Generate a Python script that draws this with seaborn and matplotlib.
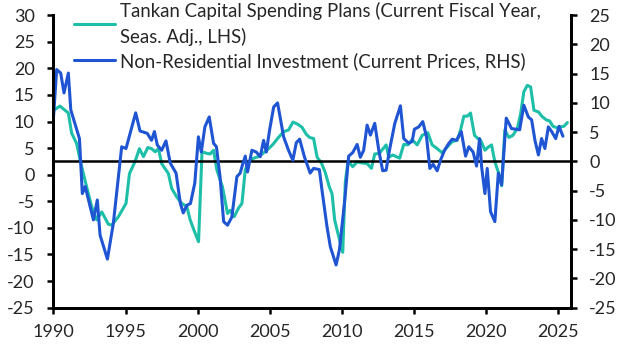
import numpy as np
import pandas as pd
import matplotlib
matplotlib.use("Agg")
import matplotlib.pyplot as plt
import seaborn as sns

# Tankan capital spending plans (LHS)
tankan_year = [1990.0, 1990.45, 1991.03, 1991.26, 1991.6, 1991.9, 1992.3, 1992.65, 1993.0, 1993.35,
               1993.8, 1994.04, 1994.5, 1995.03, 1995.27, 1995.66, 1995.96, 1996.24, 1996.54, 1996.8,
               1997.05, 1997.28, 1997.5, 1997.97, 1998.2, 1998.55, 1998.9, 1999.25, 1999.48, 1999.78,
               2000.06, 2000.3, 2000.64, 2000.87, 2001.1, 2001.33, 2001.72, 2002.07, 2002.26, 2002.53,
               2002.83, 2003.07, 2003.3, 2003.53, 2003.88, 2004.22, 2004.57, 2004.92, 2005.22, 2005.54,
               2005.96, 2006.3, 2006.61, 2006.93, 2007.24, 2007.53, 2007.76, 2008.04, 2008.28, 2008.58,
               2008.85, 2009.13, 2009.32, 2009.5, 2009.74, 2010.06, 2010.24, 2010.43, 2010.75, 2011.06,
               2011.4, 2011.75, 2012.05, 2012.28, 2012.6, 2012.83, 2013.07, 2013.25, 2013.53, 2014.01,
               2014.29, 2014.57, 2014.87, 2015.22, 2015.57, 2015.96, 2016.26, 2016.61, 2016.96, 2017.3,
               2017.65, 2018.0, 2018.23, 2018.46, 2018.7, 2018.92, 2019.2, 2019.43, 2019.62, 2019.92,
               2020.15, 2020.38, 2020.61, 2020.85, 2021.08, 2021.3, 2021.58, 2021.86, 2022.17, 2022.4,
               2022.62, 2022.86, 2023.09, 2023.32, 2023.63, 2023.9, 2024.18, 2024.41, 2024.64, 2024.94,
               2025.17, 2025.4, 2025.64]
tankan_val = [12.1, 12.9, 11.6, 7.8, 5.9, 2.1, -2.3, -6.0, -8.5, -7.0,
              -9.3, -9.5, -7.9, -5.4, 0.2, 2.5, 4.9, 3.4, 5.1, 4.9,
              4.3, 4.9, 2.1, 0.2, -2.6, -4.2, -5.4, -6.0, -8.5, -10.7,
              -12.6, 4.3, 4.0, 3.9, 4.6, 0.9, -2.3, -7.3, -6.7, -7.9,
              -6.3, -5.4, 0.9, 2.4, 3.1, 3.4, 4.1, 4.9, 5.7, 6.8,
              8.1, 8.4, 9.9, 9.5, 8.9, 7.6, 7.0, 6.8, 3.3, 2.2,
              0.4, -2.3, -3.6, -8.5, -11.2, -14.6, -1.3, 2.6, 1.5, 2.4,
              2.2, 2.1, 1.2, 3.9, 4.0, 4.8, 5.6, 3.3, 3.7, 3.1,
              5.7, 5.6, 6.6, 5.6, 7.4, 7.9, 5.6, 4.9, 4.1, 5.2,
              6.2, 6.5, 8.4, 11.0, 11.0, 11.6, 7.4, 6.8, 6.5, 4.6,
              5.2, 5.6, 2.4, 0.5, -2.1, 8.4, 7.0, 7.4, 8.7, 11.5,
              15.6, 16.8, 16.5, 12.1, 11.8, 10.9, 10.3, 10.1, 9.1, 8.8,
              9.0, 9.1, 9.8]

# Non-residential investment, current prices (RHS)
invest_year = [1990.0, 1990.22, 1990.5, 1990.73, 1991.03, 1991.2, 1991.8, 1992.0, 1992.2, 1992.77,
               1993.04, 1993.23, 1993.74, 1994.15, 1994.73, 1995.03, 1995.7, 1996.0, 1996.5, 1996.8,
               1997.0, 1997.2, 1997.5, 1997.8, 1998.1, 1998.5, 1998.8, 1999.0, 1999.25, 1999.5,
               1999.8, 2000.05, 2000.25, 2000.5, 2000.8, 2001.1, 2001.3, 2001.55, 2001.8, 2002.07,
               2002.37, 2002.72, 2002.95, 2003.07, 2003.3, 2003.46, 2003.76, 2004.06, 2004.34, 2004.57,
               2004.76, 2004.99, 2005.27, 2005.54, 2005.96, 2006.3, 2006.6, 2006.84, 2007.07, 2007.4,
               2007.8, 2008.04, 2008.44, 2008.62, 2008.97, 2009.2, 2009.6, 2009.83, 2010.2, 2010.47,
               2010.75, 2011.06, 2011.28, 2011.51, 2011.75, 2011.98, 2012.28, 2012.56, 2012.83, 2013.07,
               2013.3, 2013.67, 2014.06, 2014.29, 2014.64, 2014.87, 2015.03, 2015.33, 2015.61, 2015.87,
               2016.1, 2016.33, 2016.61, 2016.84, 2017.12, 2017.42, 2017.65, 2017.95, 2018.28, 2018.58,
               2018.8, 2019.1, 2019.34, 2019.55, 2019.69, 2019.92, 2020.08, 2020.31, 2020.61, 2020.85,
               2021.08, 2021.4, 2021.77, 2022.1, 2022.33, 2022.62, 2022.93, 2023.16, 2023.39, 2023.63,
               2023.85, 2024.08, 2024.32, 2024.55, 2024.83, 2025.06, 2025.33]
invest_val = [7.5, 15.7, 15.1, 11.7, 15.1, 8.8, 3.9, -5.5, -4.3, -10.0,
              -6.6, -12.6, -16.7, -10.6, 2.5, 2.2, 8.3, 5.2, 4.8, 3.6,
              5.1, 2.8, 1.9, 3.5, -0.3, -2.0, -7.2, -8.8, -7.5, -7.2,
              -3.7, 4.2, 1.6, 5.9, 7.6, 3.1, 2.5, -2.6, -10.3, -10.9,
              -9.5, -2.6, -2.0, -0.9, 0.9, -1.8, 1.9, 1.6, 0.8, 3.6,
              1.6, 5.4, 9.3, 10.0, 4.2, 1.9, 0.2, 3.2, 3.8, 0.8,
              -2.0, -1.2, -1.4, -4.9, -11.2, -14.6, -17.7, -15.1, -6.6, 0.9,
              1.5, 2.9, 0.7, 1.9, 6.2, 4.5, 6.5, 1.9, -1.6, -1.5,
              1.9, 6.5, 9.5, 3.9, 3.1, 3.4, 5.5, 5.9, 6.8, 4.2,
              -1.2, -0.5, -1.6, 0.2, 1.9, 3.1, 3.8, 3.6, 5.1, 0.9,
              2.5, 1.6, -0.8, 3.9, -0.9, -5.5, -1.2, -8.6, -10.3, -2.0,
              -4.0, 7.4, 5.6, 5.5, 5.4, 9.6, 7.6, 7.1, 3.6, 1.1,
              3.9, 2.2, 5.9, 5.1, 3.9, 6.0, 4.3]

teal = "#1dbfa8"
blue = "#1f55d2"

sns.set_style("ticks")
plt.rcParams["font.family"] = ["Lato", "DejaVu Sans"]
plt.rcParams["axes.unicode_minus"] = False

fig, ax = plt.subplots(figsize=(6.27, 3.52), dpi=100)
fig.subplots_adjust(left=0.0853, right=0.910, top=0.957, bottom=0.126)
ax2 = ax.twinx()

sns.lineplot(x=tankan_year, y=tankan_val, ax=ax, color=teal, linewidth=2.2,
             label="Tankan Capital Spending Plans (Current Fiscal Year,\nSeas. Adj., LHS)", legend=False)
sns.lineplot(x=invest_year, y=invest_val, ax=ax2, color=blue, linewidth=2.2,
             label="Non-Residential Investment (Current Prices, RHS)", legend=False)
ax2.axhline(0, color="black", linewidth=1.8, zorder=1)

ax.set_xlim(1990, 2025.86)
ax.set_ylim(-25, 30)
ax2.set_ylim(-25, 25)
ax.set_xticks(range(1990, 2026, 5))
ax.set_yticks(range(-25, 31, 5))
ax2.set_yticks(range(-25, 26, 5))
ax.set_xlabel("")
ax.set_ylabel("")
ax2.set_ylabel("")

for a in (ax, ax2):
    a.spines["top"].set_visible(False)
    for s in ("left", "right", "bottom"):
        a.spines[s].set_linewidth(2.0)
        a.spines[s].set_color("black")
    a.tick_params(axis="both", labelsize=13, width=1.8, length=4.5, color="black")
ax.tick_params(axis="y", pad=9)
ax2.tick_params(axis="y", pad=9)
ax.tick_params(axis="x", pad=7)

h1, l1 = ax.get_legend_handles_labels()
h2, l2 = ax2.get_legend_handles_labels()
leg = fig.legend(h1 + h2, l1 + l2, loc="upper left", bbox_to_anchor=(74 / 627, 0.995),
                 frameon=False, fontsize=13.4, handlelength=2.2, handletextpad=0.25,
                 labelspacing=0.3, borderpad=0, borderaxespad=0)
for t in leg.get_texts():
    t.set_linespacing(1.55)

fig.savefig("out.png", dpi=100)
